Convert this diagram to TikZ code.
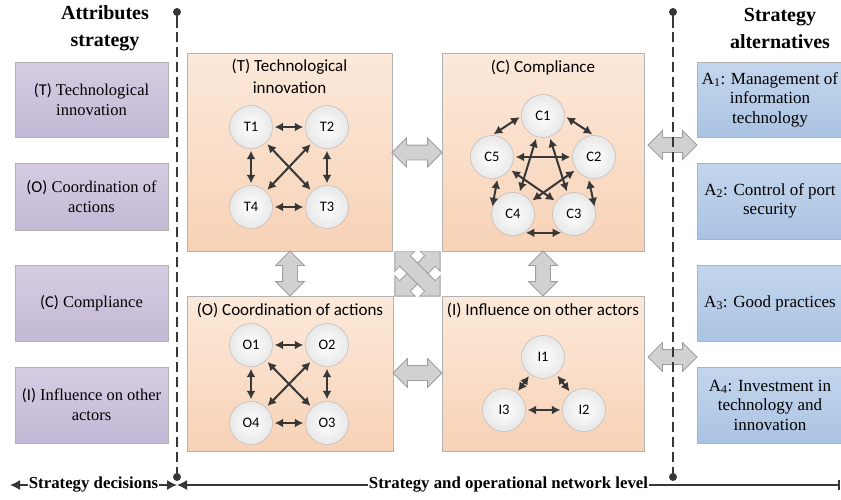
\documentclass[tikz,border=0pt]{standalone}
\usepackage{fontspec}
\setmainfont{Liberation Serif}
\newfontfamily\calib{Carlito}
\DeclareTextFontCommand{\textcalib}{\calib}
\usepackage{tikz}
\usetikzlibrary{arrows.meta,positioning,shapes.arrows}

\definecolor{orgtop}{RGB}{252,233,218}
\definecolor{orgbot}{RGB}{247,210,182}
\definecolor{purtop}{RGB}{214,205,227}
\definecolor{purbot}{RGB}{195,184,213}
\definecolor{blutop}{RGB}{196,214,237}
\definecolor{blubot}{RGB}{170,195,226}
\definecolor{lnk}{RGB}{55,55,55}

\begin{document}
\begin{tikzpicture}[x=1pt,y=-1pt,
	obox/.style = {draw=black!30, top color=orgtop, bottom color=orgbot, inner sep=0pt},
	pbox/.style = {draw=black!30, top color=purtop, bottom color=purbot, minimum width=153pt, align=center, inner sep=1pt, font=\rmfamily\fontsize{16.5}{20}\selectfont},
	abox/.style = {draw=black!30, top color=blutop, bottom color=blubot, minimum width=146pt, align=center, inner sep=1pt, font=\rmfamily\fontsize{17}{19.5}\selectfont},
	otitle/.style = {align=center, inner sep=0pt, font=\calib\fontsize{17}{22.5}\selectfont},
	head/.style = {align=center, inner sep=0pt, font=\rmfamily\bfseries\fontsize{20}{27}\selectfont},
	circ/.style = {circle, draw=black!30, minimum size=43pt, inner sep=0pt, inner color=white, outer color=black!9, font=\calib\fontsize{14.5}{16}\selectfont},
	link/.style = {{Latex[length=8.5pt,width=9pt]}-{Latex[length=8.5pt,width=9pt]}, line width=2pt, draw=lnk, shorten <=2pt, shorten >=2pt},
	blk/.style = {double arrow, double arrow head extend=7pt, inner sep=7pt, fill=black!18, draw=black!38, line width=0.8pt},
	level/.style = {draw=lnk, line width=1.4pt},
	botlbl/.style = {fill=white, inner sep=1pt, font=\rmfamily\bfseries\fontsize{16.8}{20}\selectfont}]
\useasboundingbox (0,0) rectangle (841,499);

% crossed arrows in the middle
\begin{scope}
	\clip (393,251) rectangle (442,296);
	\node[blk, minimum height=64pt, rotate=45] (xa) at (417.5,273.5) {};
	\node[blk, minimum height=64pt, rotate=-45] (xb) at (417.5,273.5) {};
\end{scope}

% headings
\node[head] (hL) at (105,28) {Attributes\\strategy};
\node[head] (hR) at (780,28) {Strategy\\alternatives};

% attributes
\node[pbox, minimum height=75pt] (p1) at (91.5,99.5) {\textcalib{(T)} Technological\\innovation};
\node[pbox, minimum height=67pt] (p2) at (91.5,196.5) {\textcalib{(O)} Coordination of\\actions};
\node[pbox, minimum height=76pt] (p3) at (91.5,303) {\textcalib{(C)} Compliance};
\node[pbox, minimum height=76pt] (p4) at (91.5,405) {\textcalib{(I)} Influence on other\\actors};

% alternatives
\node[abox, minimum height=75pt] (a1) at (770,99.5) {A\textsubscript{1}: Management of\\information\\technology};
\node[abox, minimum height=76pt] (a2) at (770,201) {A\textsubscript{2}: Control of port\\security};
\node[abox, minimum height=76pt] (a3) at (770,303) {A\textsubscript{3}: Good practices};
\node[abox, minimum height=76pt] (a4) at (770,405) {A\textsubscript{4}: Investment in\\technology and\\innovation};

% network blocks
\node[obox, minimum width=205pt, minimum height=198pt] (bT) at (289.5,152) {};
\node[obox, minimum width=202pt, minimum height=198pt] (bC) at (543,152) {};
\node[obox, minimum width=206pt, minimum height=155pt] (bO) at (290,373.5) {};
\node[obox, minimum width=202pt, minimum height=155pt] (bI) at (543,373.5) {};

\node[otitle, below=6pt of bT.north] (tT) {(T) Technological\\innovation};
\node[otitle, below=7pt of bC.north] (tC) {(C) Compliance};
\node[otitle, below=7pt of bO.north] (tO) {(O) Coordination of actions};
\node[otitle, below=7pt of bI.north] (tI) {(I) Influence on other actors};

% block arrows between blocks
\node[blk, minimum height=50pt] (gTC) at (417,152.5) {};
\node[blk, minimum height=49pt] (gOI) at (417.5,373) {};
\node[blk, minimum height=45pt, rotate=90] (gTO) at (290,273.5) {};
\node[blk, minimum height=45pt, rotate=90] (gCI) at (543,273.5) {};
\node[blk, minimum height=49pt] (gA1) at (672.5,145) {};
\node[blk, minimum height=49pt] (gA4) at (672.5,357) {};

% (T)
\node[circ] (T1) at (251,127) {T1};
\node[circ] (T2) at (327,127) {T2};
\node[circ] (T3) at (327,207) {T3};
\node[circ] (T4) at (251,207) {T4};
\foreach \a/\b in {T1/T2,T2/T3,T3/T4,T4/T1,T1/T3,T2/T4}
	\draw[link] (\a) -- (\b);

% (C)
\node[circ] (C1) at (543,116) {C1};
\node[circ] (C2) at (594,157) {C2};
\node[circ] (C3) at (574,214) {C3};
\node[circ] (C4) at (513,214) {C4};
\node[circ] (C5) at (492,157) {C5};
\draw[link] (C1.west) -- (C5.north);
\draw[link] (C1.east) -- (C2.north);
\draw[link] (C2.-105) -- (C3.15);
\draw[link] (C3.-120) -- (C4.-60);
\draw[link] (C4.165) -- (C5.-75);
\foreach \a/\b in {C1/C3,C1/C4,C2/C4,C2/C5,C3/C5}
	\draw[link] (\a) -- (\b);

% (O)
\node[circ] (O1) at (251,345) {O1};
\node[circ] (O2) at (327,345) {O2};
\node[circ] (O3) at (327,423) {O3};
\node[circ] (O4) at (251,423) {O4};
\foreach \a/\b in {O1/O2,O2/O3,O3/O4,O4/O1,O1/O3,O2/O4}
	\draw[link] (\a) -- (\b);

% (I)
\node[circ] (I1) at (543,357) {I1};
\node[circ] (I2) at (584,410) {I2};
\node[circ] (I3) at (504,410) {I3};
\foreach \a/\b in {I1/I2,I2/I3,I3/I1}
	\draw[link] (\a) -- (\b);

% level separators
\foreach \x/\n in {177/L,673/R} {
	\coordinate (top\n) at (\x,12);
	\coordinate (bot\n) at (\x,477);
	\draw[level] (top\n) -- ++(0,16);
	\draw[level, line width=1.2pt, dash pattern=on 10pt off 5pt] ([yshift=-20pt]top\n) -- (bot\n);
	\fill[lnk] (top\n) circle (4);
	\fill[lnk] (bot\n) circle (4);
}

% bottom axis
\coordinate (e0) at (10,485);
\coordinate (e1) at (177,485);
\coordinate (e2) at (840,485);
\draw[level, {Latex[length=10pt,width=10pt]}-{Latex[length=10pt,width=10pt]}] (e0) -- node[botlbl] (sd) {Strategy decisions} (e1);
\draw[level, {Latex[length=10pt,width=10pt]}-{Bar[width=10pt,line width=2pt]}] (e1) -- node[botlbl, pos=0.5] (sn) {Strategy and operational network level} (e2);
\end{tikzpicture}
\end{document}
